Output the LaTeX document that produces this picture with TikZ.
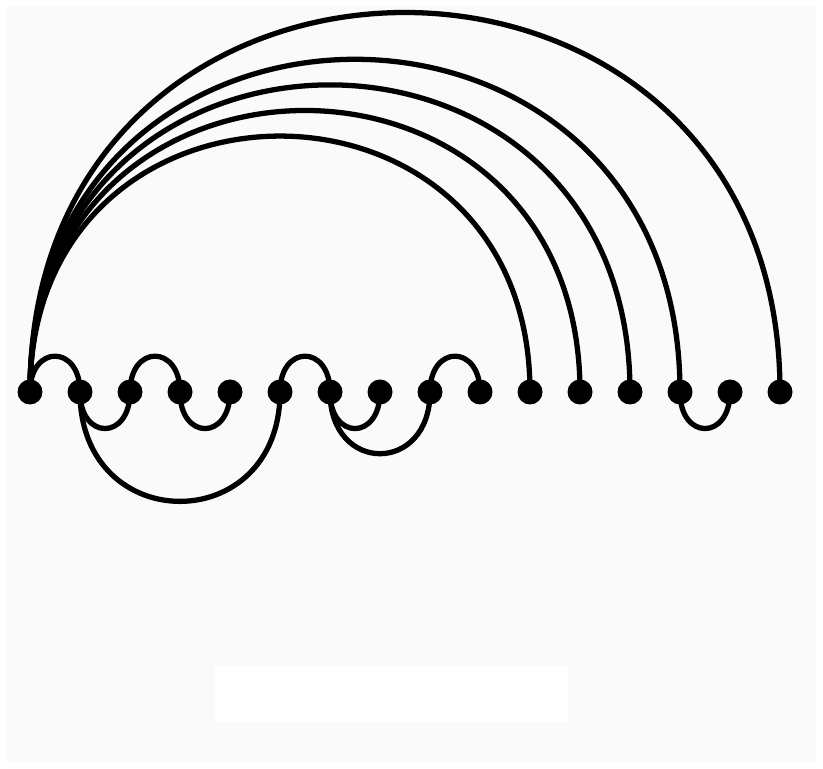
\documentclass[tikz,border=0pt]{standalone}
\begin{document}
\begin{tikzpicture}[x=1cm,y=1cm,
  chord/.style={line width=3pt},
  vertex/.style={circle,fill=black,inner sep=0pt,minimum size=0.5cm}]
\useasboundingbox (0,0) rectangle (16.46,15.36);
\fill[white] (0,0) rectangle (16.46,15.36);
\fill[black!2] (0.14,0.14) rectangle (16.32,15.22);
\fill[white] (4.3,0.92) rectangle (11.36,2.06);

\foreach \i in {1,...,16}
  \node[vertex] (v\i) at (\i-0.4,7.52) {};

% arcs above the line
\foreach \a/\b/\l in {1/2/2.45, 3/4/2.45, 6/7/2.45, 9/10/2.45,
  1/11/1.75, 1/12/1.75, 1/13/1.75, 1/14/1.75, 1/16/1.73}
  \draw[chord] (v\a.center) to[out=90,in=90,looseness=\l] (v\b.center);
% arcs below the line
\foreach \a/\b/\l in {2/3/2.5, 4/5/2.5, 7/8/2.5, 14/15/2.5, 7/9/2.11, 2/6/1.87}
  \draw[chord] (v\a.center) to[out=-90,in=-90,looseness=\l] (v\b.center);
\end{tikzpicture}
\end{document}
